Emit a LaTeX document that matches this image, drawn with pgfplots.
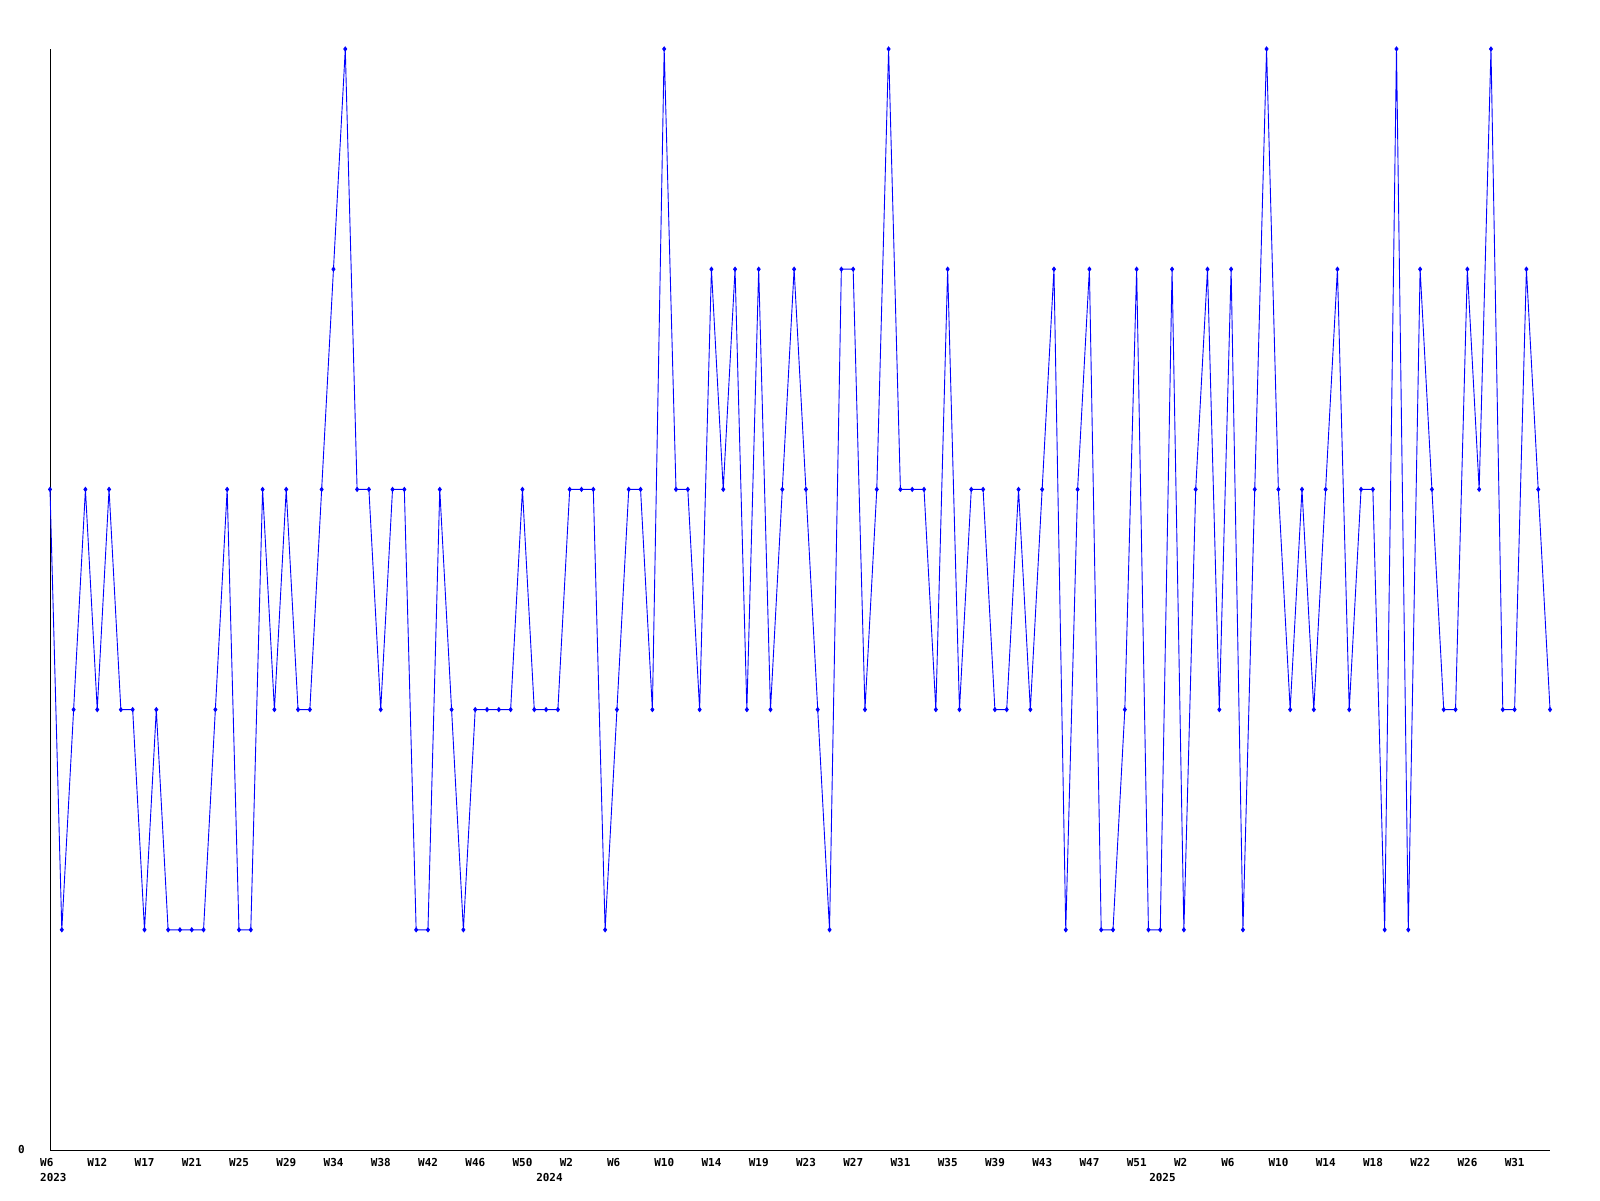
\documentclass[border=0pt]{standalone}
\usepackage{fontspec}
\setmonofont{DejaVu Sans Mono}
\usepackage{pgfplots}
\pgfplotsset{compat=1.18}
\begin{document}
\begin{tikzpicture}[x=1bp,y=1bp]
\path[use as bounding box] (0,0) rectangle (1600,1200);
\begin{axis}[
  at={(50bp,50bp)}, anchor=south west,
  scale only axis, width=1500bp, height=1101bp,
  xmin=0, xmax=127, ymin=0, ymax=5,
  clip=false,
  axis x line=bottom, axis y line=left,
  axis line style={-, black, line width=1bp},
  xtick={0,4,...,124},
  xticklabels={W6,W12,W17,W21,W25,W29,W34,W38,W42,W46,W50,W2,W6,W10,W14,W19,W23,W27,W31,W35,W39,W43,W47,W51,W2,W6,W10,W14,W18,W22,W26,W31},
  major tick length=0pt,
  xticklabel style={anchor=north west, inner sep=0pt, xshift=-10bp, yshift=-8bp, font=\ttfamily\bfseries\fontsize{11}{13}\selectfont},
  extra x ticks={0,42,93.9},
  extra x tick labels={2023,2024,2025},
  extra x tick style={xticklabel style={yshift=-15bp}, major tick length=0pt},
  ytick={0}, yticklabels={0},
  yticklabel style={anchor=east, inner sep=0pt, xshift=-25bp, font=\ttfamily\bfseries\fontsize{11}{13}\selectfont},
  /pgf/number format/assume math mode=true,
]
\addplot[color={rgb,255:red,0;green,0;blue,255}, line width=0.9bp, mark=diamond*, mark size=2bp, mark options={solid}] coordinates {
(0,3) (1,1) (2,2) (3,3) (4,2) (5,3) (6,2) (7,2) (8,1) (9,2)
(10,1) (11,1) (12,1) (13,1) (14,2) (15,3) (16,1) (17,1) (18,3) (19,2)
(20,3) (21,2) (22,2) (23,3) (24,4) (25,5) (26,3) (27,3) (28,2) (29,3)
(30,3) (31,1) (32,1) (33,3) (34,2) (35,1) (36,2) (37,2) (38,2) (39,2)
(40,3) (41,2) (42,2) (43,2) (44,3) (45,3) (46,3) (47,1) (48,2) (49,3)
(50,3) (51,2) (52,5) (53,3) (54,3) (55,2) (56,4) (57,3) (58,4) (59,2)
(60,4) (61,2) (62,3) (63,4) (64,3) (65,2) (66,1) (67,4) (68,4) (69,2)
(70,3) (71,5) (72,3) (73,3) (74,3) (75,2) (76,4) (77,2) (78,3) (79,3)
(80,2) (81,2) (82,3) (83,2) (84,3) (85,4) (86,1) (87,3) (88,4) (89,1)
(90,1) (91,2) (92,4) (93,1) (94,1) (95,4) (96,1) (97,3) (98,4) (99,2)
(100,4) (101,1) (102,3) (103,5) (104,3) (105,2) (106,3) (107,2) (108,3) (109,4)
(110,2) (111,3) (112,3) (113,1) (114,5) (115,1) (116,4) (117,3) (118,2) (119,2)
(120,4) (121,3) (122,5) (123,2) (124,2) (125,4) (126,3) (127,2)
};
\end{axis}
\end{tikzpicture}
\end{document}
